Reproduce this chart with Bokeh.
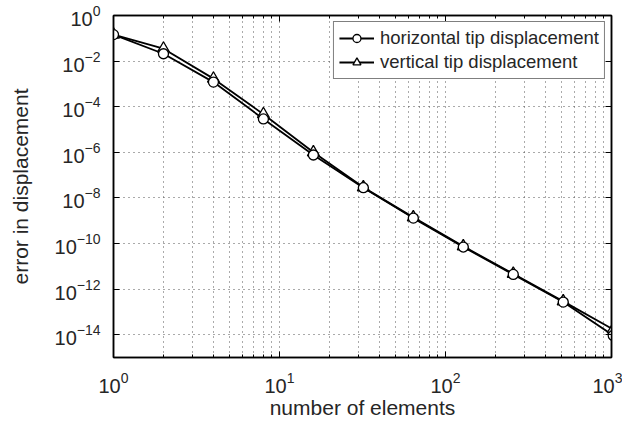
from bokeh.plotting import figure
from bokeh.models import (FixedTicker, LogAxis, LogTickFormatter, CustomJSTickFormatter, Legend, LegendItem)
from bokeh.embed import file_html
from bokeh.resources import INLINE

# ---- data ----
n_elements = [1, 2, 4, 8, 16, 32, 64, 128, 256, 512, 1024]
horizontal_err = [1.45e-1, 2.1e-2, 1.2e-3, 2.9e-5, 7.6e-7, 2.8e-8, 1.3e-9, 7.0e-11, 4.4e-12, 2.7e-13, 9.3e-15]
vertical_err = [1.45e-1, 3.5e-2, 1.7e-3, 4.7e-5, 1.0e-6, 2.9e-8, 1.4e-9, 7.5e-11, 4.7e-12, 2.9e-13, 1.7e-14]

x_major = [1, 10, 100, 1000]
y_major = [1e-14, 1e-12, 1e-10, 1e-8, 1e-6, 1e-4, 1e-2, 1]

x_label = "number of elements"
y_label = "error in displacement"
labels = ["horizontal tip displacement", "vertical tip displacement"]

FONT = "Liberation Sans"
TXT = "#262626"

x_minor = [m * d for d in [1, 10, 100] for m in range(2, 10)]

p = figure(width=622, height=421, x_axis_type="log", y_axis_type="log",
           x_range=(1, 1000), y_range=(1e-15, 1),
           output_backend="svg", toolbar_location=None,
           min_border_left=113, min_border_right=11, min_border_top=15, min_border_bottom=62)

p.outline_line_color = "black"
p.outline_line_width = 1.5
p.background_fill_color = "white"
p.border_fill_color = "white"

fmt = LogTickFormatter(min_exponent=0)
blank = CustomJSTickFormatter(code="return '';")

xt = FixedTicker(ticks=x_major, minor_ticks=x_minor)
yt = FixedTicker(ticks=y_major, minor_ticks=[])

for ax in p.xaxis:
    ax.ticker = xt
for ax in p.yaxis:
    ax.ticker = yt

def style_axis(ax, show):
    ax.formatter = fmt if show else blank
    ax.major_tick_in = 6
    ax.major_tick_out = 0
    ax.minor_tick_in = 3
    ax.minor_tick_out = 0
    ax.axis_line_color = "black"
    ax.axis_line_width = 1.5
    ax.major_tick_line_color = "black"
    ax.minor_tick_line_color = "black"
    ax.major_label_text_font = FONT
    ax.major_label_text_font_size = "20px"
    ax.major_label_text_color = TXT
    ax.axis_label_text_font = FONT
    ax.axis_label_text_font_size = "21px"
    ax.axis_label_text_font_style = "normal"
    ax.axis_label_text_color = TXT
    if not show:
        ax.major_label_standoff = 0
        ax.major_label_text_font_size = "1px"

style_axis(p.xaxis[0], True)
style_axis(p.yaxis[0], True)
p.xaxis[0].axis_label = x_label
p.yaxis[0].axis_label = y_label
p.xaxis[0].major_label_standoff = 14
p.xaxis[0].axis_label_standoff = 0
p.yaxis[0].major_label_standoff = 13
p.yaxis[0].axis_label_standoff = 20

top = LogAxis(ticker=xt)
style_axis(top, False)
right = LogAxis(ticker=yt)
style_axis(right, False)
p.add_layout(top, "above")
p.add_layout(right, "right")

# grid
p.xgrid.ticker = xt
p.ygrid.ticker = yt
for g in (p.xgrid[0], p.ygrid[0]):
    g.grid_line_color = "#555555"
    g.grid_line_dash = "1 4"
    g.grid_line_width = 1
p.xgrid[0].minor_grid_line_color = "#555555"
p.xgrid[0].minor_grid_line_dash = "1 4"
p.xgrid[0].minor_grid_line_width = 1

# series
lv = p.line(n_elements, vertical_err, line_color="black", line_width=1.8)
lh = p.line(n_elements, horizontal_err, line_color="black", line_width=1.8)
sv = p.scatter(n_elements, vertical_err, marker="triangle", size=12,
               fill_color="white", line_color="black", line_width=1.3)
sh = p.scatter(n_elements, horizontal_err, marker="circle", size=10,
               fill_color="white", line_color="black", line_width=1.3)

legend = Legend(items=[LegendItem(label=labels[0], renderers=[lh, sh]),
                       LegendItem(label=labels[1], renderers=[lv, sv])],
                location="top_right")
legend.margin = 6
legend.padding = 5
legend.spacing = 2
legend.glyph_width = 35
legend.glyph_height = 20
legend.label_height = 20
legend.label_standoff = 6
legend.label_text_font = FONT
legend.label_text_font_size = "18.5px"
legend.label_text_color = TXT
legend.border_line_color = "black"
legend.border_line_width = 1.8
legend.background_fill_color = "white"
legend.background_fill_alpha = 1
p.add_layout(legend, "center")

open("out.html", "w").write(file_html(p, INLINE))
